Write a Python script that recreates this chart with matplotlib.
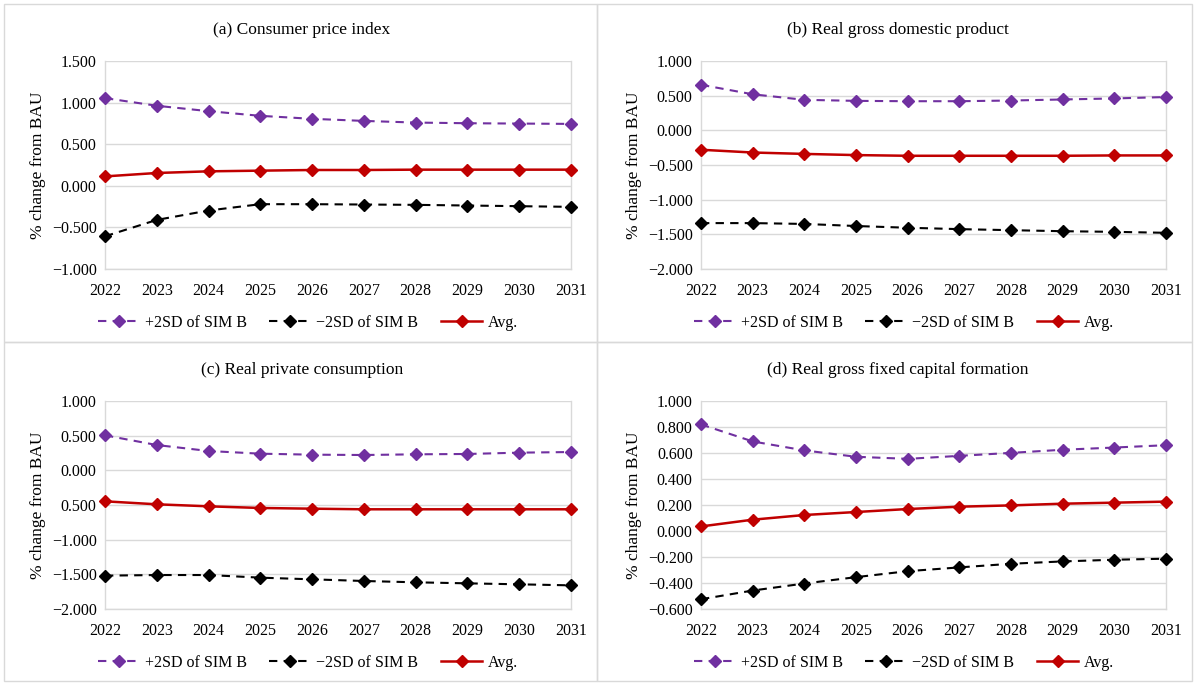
import matplotlib
matplotlib.use("Agg")
import matplotlib.pyplot as plt
from matplotlib.lines import Line2D
from matplotlib.patches import Rectangle

plt.rcParams['font.family'] = ['Liberation Serif', 'DejaVu Serif']

years = ["2022", "2023", "2024", "2025", "2026", "2027", "2028", "2029", "2030", "2031"]

titles = ["(a) Consumer price index", "(b) Real gross domestic product",
          "(c) Real private consumption", "(d) Real gross fixed capital formation"]

# (a) Consumer price index
a_plus = [1.054, 0.962, 0.897, 0.841, 0.805, 0.780, 0.760, 0.752, 0.748, 0.744]
a_minus = [-0.607, -0.410, -0.297, -0.221, -0.221, -0.225, -0.229, -0.237, -0.245, -0.253]
a_avg = [0.113, 0.154, 0.174, 0.182, 0.190, 0.190, 0.194, 0.194, 0.194, 0.194]
a_yticks = [1.5, 1.0, 0.5, 0.0, -0.5, -1.0]
a_ylabels = ["1.500", "1.000", "0.500", "0.000", "\u22120.500", "\u22121.000"]

# (b) Real GDP
b_plus = [0.657, 0.520, 0.440, 0.425, 0.420, 0.420, 0.430, 0.445, 0.460, 0.480]
b_minus = [-1.338, -1.338, -1.350, -1.380, -1.405, -1.425, -1.440, -1.455, -1.464, -1.478]
b_avg = [-0.280, -0.320, -0.340, -0.357, -0.367, -0.367, -0.367, -0.367, -0.362, -0.362]
b_yticks = [1.0, 0.5, 0.0, -0.5, -1.0, -1.5, -2.0]
b_ylabels = ["1.000", "0.500", "0.000", "\u22120.500", "\u22121.000", "\u22121.500", "\u22122.000"]

# (c) Real private consumption
c_plus = [0.505, 0.365, 0.279, 0.240, 0.226, 0.221, 0.231, 0.236, 0.255, 0.264]
c_minus = [-1.519, -1.510, -1.510, -1.548, -1.572, -1.596, -1.615, -1.630, -1.644, -1.659]
c_avg = [-0.447, -0.490, -0.519, -0.543, -0.553, -0.562, -0.562, -0.562, -0.562, -0.562]
c_yticks = [1.0, 0.5, 0.0, -0.5, -1.0, -1.5, -2.0]
c_ylabels = ["1.000", "0.500", "0.000", "0.500", "\u22121.000", "\u22121.500", "\u22122.000"]

# (d) Real gross fixed capital formation
d_plus = [0.820, 0.689, 0.620, 0.571, 0.555, 0.578, 0.601, 0.625, 0.642, 0.660]
d_minus = [-0.525, -0.458, -0.404, -0.355, -0.309, -0.280, -0.252, -0.234, -0.221, -0.213]
d_avg = [0.035, 0.087, 0.123, 0.146, 0.169, 0.187, 0.197, 0.210, 0.218, 0.226]
d_yticks = [1.0, 0.8, 0.6, 0.4, 0.2, 0.0, -0.2, -0.4, -0.6]
d_ylabels = ["1.000", "0.800", "0.600", "0.400", "0.200", "0.000", "\u22120.200", "\u22120.400", "\u22120.600"]

series_names = ["+2SD of SIM B", "\u22122SD of SIM B", "Avg."]
colors = ["#7030A0", "#000000", "#C00000"]

W, H = 1195, 684
fig = plt.figure(figsize=(W / 100, H / 100), dpi=100)

def fx(px):
    return px / W

def fy(py):
    return 1 - py / H

# panel borders
for (x0, y0, x1, y1) in [(4, 4, 597, 342), (597, 4, 1192, 342), (4, 342, 597, 681), (597, 342, 1192, 681)]:
    fig.patches.append(Rectangle((fx(x0), fy(y1)), fx(x1 - x0), (y1 - y0) / H,
                                 transform=fig.transFigure, fill=False,
                                 edgecolor="#D9D9D9", linewidth=1.0))

panels = [
    (a_plus, a_minus, a_avg, a_yticks, a_ylabels, 105, 571, 61, 269),
    (b_plus, b_minus, b_avg, b_yticks, b_ylabels, 701, 1166, 61, 269),
    (c_plus, c_minus, c_avg, c_yticks, c_ylabels, 105, 571, 401, 609),
    (d_plus, d_minus, d_avg, d_yticks, d_ylabels, 701, 1166, 401, 609),
]
panel_centers = [(302, 30), (898, 30), (302, 370), (898, 370)]

dash = (0, (4, 3))
x = list(range(len(years)))
for i, (p, m, a, yt, yl, l, r, t, b) in enumerate(panels):
    ax = fig.add_axes([fx(l), fy(b), fx(r - l), (b - t) / H])
    ax.plot(x, p, color=colors[0], linestyle=dash, linewidth=1.5,
            marker="D", markersize=6, zorder=3, clip_on=False)
    ax.plot(x, m, color=colors[1], linestyle=dash, linewidth=1.5,
            marker="D", markersize=6, zorder=3, clip_on=False)
    ax.plot(x, a, color=colors[2], linestyle="-", linewidth=1.8,
            marker="D", markersize=6, zorder=3, clip_on=False)
    ax.set_xlim(0, len(years) - 1)
    ax.set_ylim(min(yt), max(yt))
    ax.set_yticks(yt)
    ax.set_yticklabels(yl, fontsize=11.5)
    ax.set_xticks(x)
    ax.set_xticklabels(years, fontsize=11.5)
    ax.tick_params(length=0, pad=6)
    ax.tick_params(axis="x", pad=10)
    ax.grid(axis="y", color="#D9D9D9", linewidth=1.0)
    ax.set_axisbelow(True)
    ax.spines["top"].set_visible(False)
    for s in ["left", "right", "bottom"]:
        ax.spines[s].set_color("#D9D9D9")
        ax.spines[s].set_linewidth(1.0)
    ax.set_ylabel("% change from BAU", fontsize=12.5, labelpad=4)
    cx, cy = panel_centers[i]
    fig.text(fx(cx), fy(cy), titles[i], ha="center", va="center", fontsize=12.5)
    handles = [
        Line2D([], [], color=colors[0], linestyle=dash, linewidth=1.5, marker="D", markersize=6),
        Line2D([], [], color=colors[1], linestyle=dash, linewidth=1.5, marker="D", markersize=6),
        Line2D([], [], color=colors[2], linestyle="-", linewidth=1.8, marker="D", markersize=6),
    ]
    fig.legend(handles, series_names, loc="center", bbox_to_anchor=(fx(cx + 6), fy(cy + 293)),
               ncol=3, frameon=False, fontsize=11.5, handlelength=2.6,
               columnspacing=1.4, handletextpad=0.35)

fig.savefig("out.png", dpi=100)
